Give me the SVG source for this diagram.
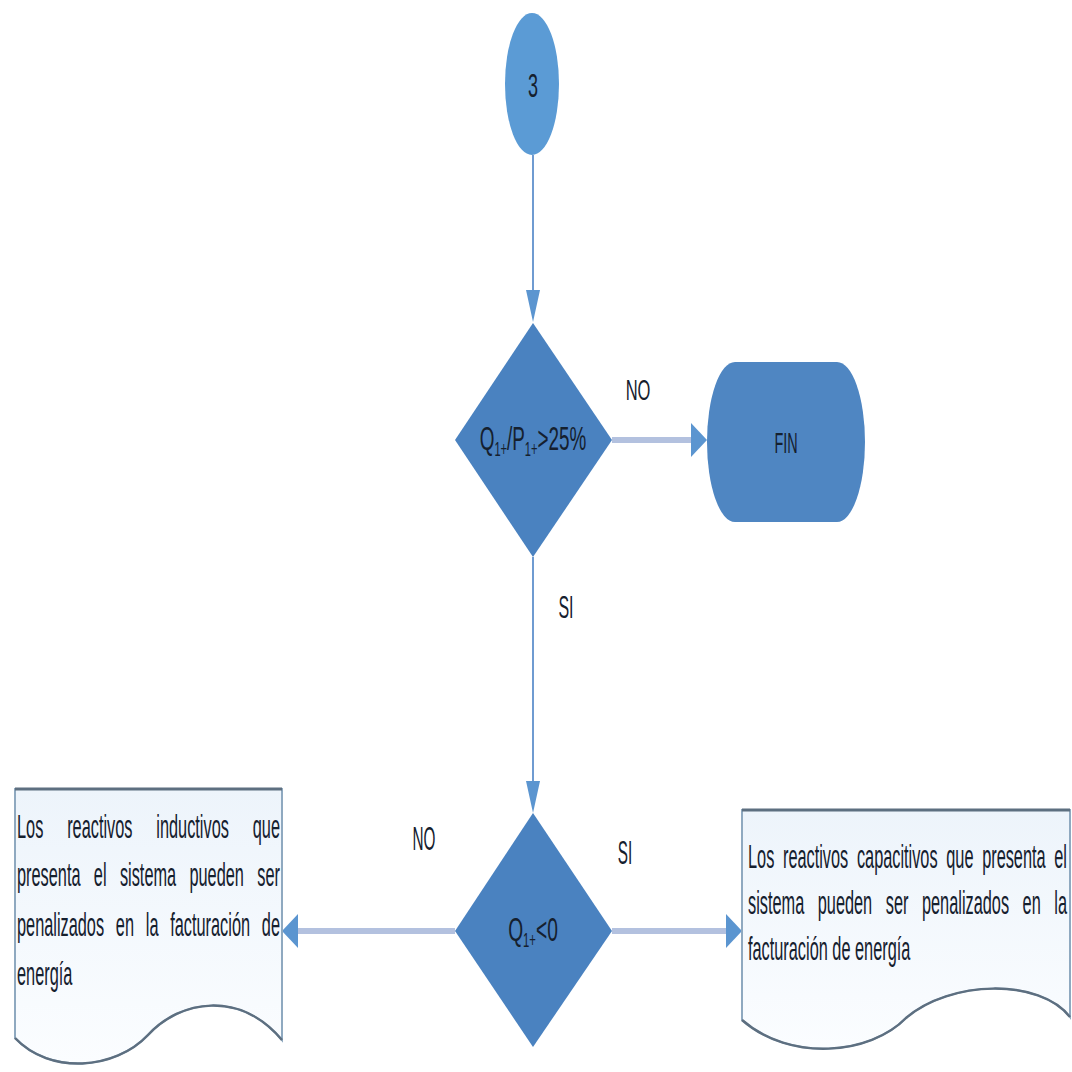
<svg xmlns="http://www.w3.org/2000/svg" width="1072" height="1072" viewBox="0 0 1072 1072">
<style>
  .t{font-family:"Liberation Sans",Arial,sans-serif;fill:#15202e}
  .body{font-size:34px}
  .lbl{font-size:30px}
  .thin{stroke:#6f9bd1;stroke-width:2;fill:none}
  .thick{stroke:#b3c1df;stroke-width:6;fill:none}
  .dia{fill:#4a82c0}
  .doc{fill:url(#docg);stroke:#8fa9c0;stroke-width:2}
  .docedge{fill:none;stroke:#5d6f80;stroke-width:2.5}
</style>
<defs>
  <linearGradient id="docg" x1="0" y1="0" x2="0" y2="1">
    <stop offset="0" stop-color="#edf4fb"/>
    <stop offset="1" stop-color="#fbfdff"/>
  </linearGradient>
  <marker id="arrV" markerUnits="userSpaceOnUse" markerWidth="32" markerHeight="14" refX="0" refY="7" orient="auto">
    <path d="M0,0 L32,7 L0,14 z" fill="#5b95d0"/>
  </marker>
  <marker id="arrH" markerUnits="userSpaceOnUse" markerWidth="16" markerHeight="34" refX="0" refY="17" orient="auto">
    <path d="M0,0 L16,17 L0,34 z" fill="#5b95d0"/>
  </marker>
</defs>
<rect width="1072" height="1072" fill="#ffffff"/>

<g id="connectors">
  <line class="thin" x1="533" y1="155" x2="533" y2="290" marker-end="url(#arrV)"/>
  <line class="thin" x1="533" y1="557" x2="533" y2="781" marker-end="url(#arrV)"/>
  <line class="thick" x1="612" y1="440" x2="691" y2="440" marker-end="url(#arrH)"/>
  <line class="thick" x1="455" y1="931" x2="298" y2="931" marker-end="url(#arrH)"/>
  <line class="thick" x1="612" y1="931" x2="726" y2="931" marker-end="url(#arrH)"/>
  <text class="t lbl" transform="translate(638,400) scale(0.55,1)" text-anchor="middle">NO</text>
  <text class="t lbl" transform="translate(566,618) scale(0.5,1)" text-anchor="middle" style="font-size:32px">SI</text>
  <text class="t lbl" transform="translate(424,850) scale(0.45,1)" text-anchor="middle" style="font-size:34px">NO</text>
  <text class="t lbl" transform="translate(625,864) scale(0.45,1)" text-anchor="middle" style="font-size:34px">SI</text>
</g>

<g id="n-start">
  <ellipse cx="532" cy="84" rx="27" ry="71" fill="#5b9bd5"/>
  <text class="t" transform="translate(533,97) scale(0.53,1)" text-anchor="middle" style="font-size:34px">3</text>
</g>

<g id="n-dec1">
  <polygon class="dia" points="533,323 612,440 533,557 455,440"/>
  <text class="t" transform="translate(533,450) scale(0.555,1)" text-anchor="middle" style="font-size:34px">Q<tspan dy="6" font-size="20">1+</tspan><tspan dy="-6">/P</tspan><tspan dy="6" font-size="20">1+</tspan><tspan dy="-6">&gt;25%</tspan></text>
</g>

<g id="n-fin">
  <rect x="707" y="362" width="158" height="160" rx="28" ry="80" fill="#4f86c2"/>
  <text class="t" transform="translate(786,453) scale(0.48,1)" text-anchor="middle" style="font-size:30px">FIN</text>
</g>

<g id="n-dec2">
  <polygon class="dia" points="533,813 612,931 533,1047 455,931"/>
  <text class="t" transform="translate(533,941) scale(0.565,1)" text-anchor="middle" style="font-size:34px">Q<tspan dy="6" font-size="20">1+</tspan><tspan dy="-6">&lt;0</tspan></text>
</g>

<g id="n-doc-left">
  <path class="doc" d="M15,789 H282 V1040 C240,990 180,1000 148,1035 C115,1070 50,1075 15,1038 Z"/>
  <path class="docedge" d="M282,1040 C240,990 180,1000 148,1035 C115,1070 50,1075 15,1038"/>
  <line x1="15" y1="789" x2="282" y2="789" stroke="#5d6f80" stroke-width="3"/>
  <text class="t body" transform="translate(17,838) scale(0.48,1)" style="word-spacing:40.3px">Los reactivos inductivos que</text>
  <text class="t body" transform="translate(17,886) scale(0.48,1)" style="word-spacing:18.4px">presenta el sistema pueden ser</text>
  <text class="t body" transform="translate(17,936) scale(0.48,1)" style="word-spacing:15.1px">penalizados en la facturación de</text>
  <text class="t body" transform="translate(17,985) scale(0.48,1)">energía</text>
</g>

<g id="n-doc-right">
  <path class="doc" d="M742,810 H1070 V1017 C1040,978 950,980 906,1018 C870,1055 790,1062 742,1020 Z"/>
  <path class="docedge" d="M1070,1017 C1040,978 950,980 906,1018 C870,1055 790,1062 742,1020"/>
  <line x1="742" y1="810" x2="1070" y2="810" stroke="#5d6f80" stroke-width="3"/>
  <text class="t body" transform="translate(748,868) scale(0.48,1)" style="word-spacing:8.6px">Los reactivos capacitivos que presenta el</text>
  <text class="t body" transform="translate(748,914) scale(0.48,1)" style="word-spacing:18.8px">sistema pueden ser penalizados en la</text>
  <text class="t body" transform="translate(748,960) scale(0.48,1)">facturación de energía</text>
</g>
</svg>
